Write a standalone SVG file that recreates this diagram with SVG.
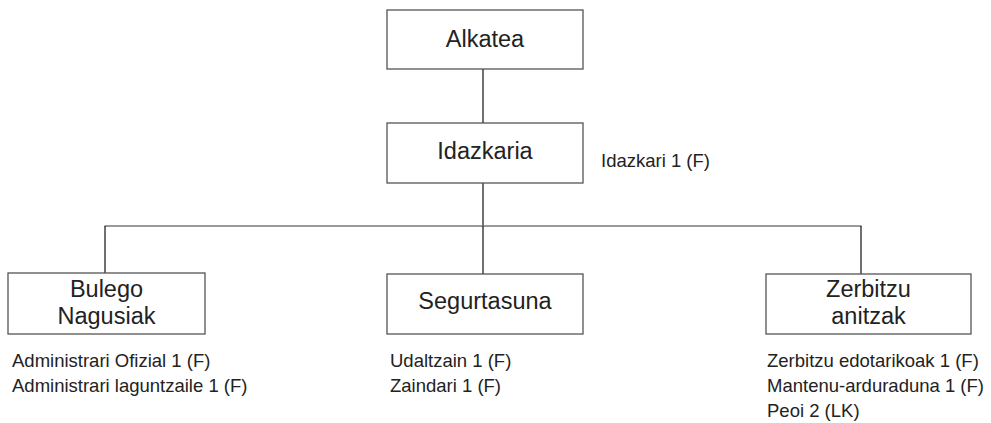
<svg xmlns="http://www.w3.org/2000/svg" width="991" height="423" viewBox="0 0 991 423">
<style>
.box{fill:#fff;stroke:#555;stroke-width:1.3}
.t{font-family:"Liberation Sans",Arial,sans-serif;font-size:23.5px;fill:#222;text-anchor:middle}
.s{font-family:"Liberation Sans",Arial,sans-serif;font-size:18.5px;fill:#222}
.v{stroke:#111;stroke-width:1.2;fill:none}
.h{stroke:#777;stroke-width:1.6;fill:none}
</style>
<rect width="991" height="423" fill="#fff"/>
<g id="connectors">
<line class="v" x1="483" y1="69" x2="483" y2="123"/>
<line class="v" x1="483" y1="183" x2="483" y2="226"/>
<line class="h" x1="104.5" y1="226" x2="861.5" y2="226"/>
<line class="v" x1="105" y1="226" x2="105" y2="273"/>
<line class="v" x1="483" y1="226" x2="483" y2="274"/>
<line class="v" x1="861" y1="226" x2="861" y2="274"/>
</g>
<g id="alkatea">
<rect class="box" x="387" y="10" width="196" height="59"/>
<text class="t" x="485" y="47">Alkatea</text>
</g>
<g id="idazkaria">
<rect class="box" x="387" y="123" width="196" height="60"/>
<text class="t" x="485" y="159">Idazkaria</text>
<text class="s" x="601" y="167">Idazkari 1 (F)</text>
</g>
<g id="bulego">
<rect class="box" x="8" y="273" width="197" height="61"/>
<text class="t" x="106.5" y="297">Bulego</text>
<text class="t" x="106.5" y="324">Nagusiak</text>
<text class="s" x="12" y="367">Administrari Ofizial 1 (F)</text>
<text class="s" x="12" y="392">Administrari laguntzaile 1 (F)</text>
</g>
<g id="segurtasuna">
<rect class="box" x="387" y="274" width="196" height="60"/>
<text class="t" x="485" y="309">Segurtasuna</text>
<text class="s" x="390" y="367">Udaltzain 1 (F)</text>
<text class="s" x="390" y="392">Zaindari 1 (F)</text>
</g>
<g id="zerbitzu">
<rect class="box" x="766" y="274" width="205" height="60"/>
<text class="t" x="868.5" y="297">Zerbitzu</text>
<text class="t" x="868.5" y="324">anitzak</text>
<text class="s" x="767" y="367">Zerbitzu edotarikoak 1 (F)</text>
<text class="s" x="767" y="392">Mantenu-arduraduna 1 (F)</text>
<text class="s" x="767" y="417">Peoi 2 (LK)</text>
</g>
</svg>
